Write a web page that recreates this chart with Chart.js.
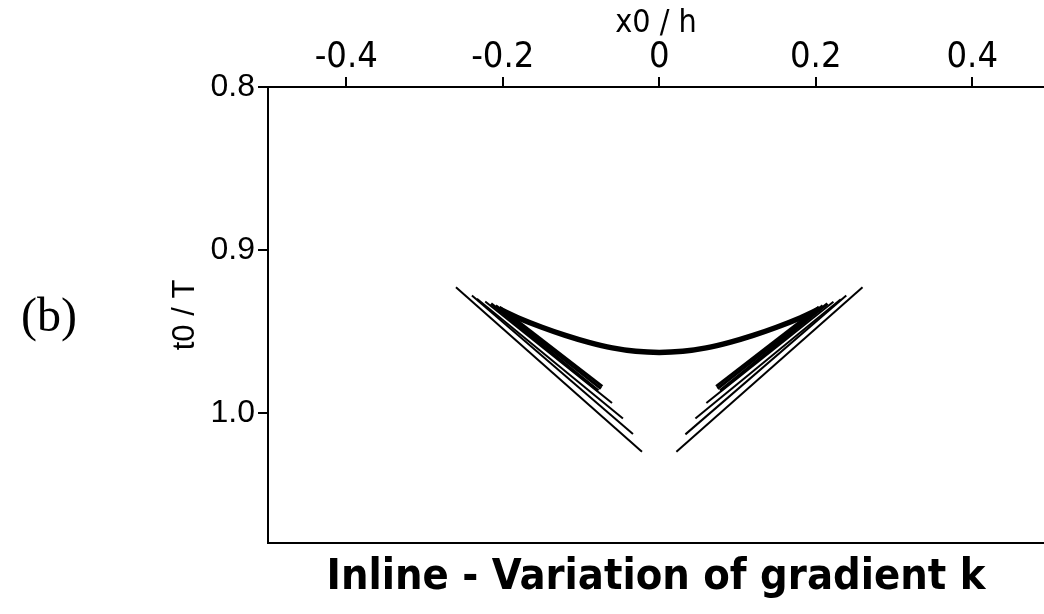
<!DOCTYPE html>
<html>
<head>
<meta charset="utf-8">
<script src="https://cdn.jsdelivr.net/npm/chart.js@4.4.1/dist/chart.umd.min.js"></script>
<style>
  html, body { margin: 0; padding: 0; background: #fff; overflow: hidden; }
  #wrap { position: relative; width: 1044px; height: 614px; }
  #panel { position: absolute; left: 21px; top: 291px; font: 48px 'Liberation Serif', 'Times New Roman', serif; color: #000; line-height: 1; }
</style>
</head>
<body>
<div id="wrap">
  <canvas id="c" width="1044" height="614"></canvas>
  <div id="panel">(b)</div>
</div>
<script>
// ---- data ----
const xTickValues = [-0.4, -0.2, 0, 0.2, 0.4];
const xTickLabels = ['-0.4', '-0.2', '0', '0.2', '0.4'];
const yTickValues = [0.8, 0.9, 1.0];
const yTickLabels = ['0.8', '0.9', '1.0'];

// thick curved line
const curveX = [-0.205, -0.18, -0.15, -0.12, -0.09, -0.06, -0.03, 0, 0.03, 0.06, 0.09, 0.12, 0.15, 0.18, 0.205];
const curveT = [0.9362, 0.9418, 0.9475, 0.9525, 0.9568, 0.9602, 0.9623, 0.9630, 0.9623, 0.9602, 0.9568, 0.9525, 0.9475, 0.9418, 0.9362];

// straight lines for the different gradients k (left branch)
const leftStartX = [-0.2598, -0.2394, -0.2330, -0.2224, -0.2150, -0.2090, -0.2040];
const leftStartT = [0.9229, 0.9280, 0.9300, 0.9317, 0.9330, 0.9342, 0.9352];
const leftEndX   = [-0.0221, -0.0336, -0.0464, -0.0604, -0.0780, -0.0745, -0.0728];
const leftEndT   = [1.0240, 1.0131, 1.0035, 0.9940, 0.9865, 0.9852, 0.9838];
// right branch
const rightStartX = [0.2598, 0.2390, 0.2320, 0.2226, 0.2150, 0.2090, 0.2040];
const rightStartT = [0.9229, 0.9280, 0.9303, 0.9319, 0.9330, 0.9342, 0.9352];
const rightEndX   = [0.0219, 0.0334, 0.0462, 0.0602, 0.0778, 0.0745, 0.0728];
const rightEndT   = [1.0240, 1.0133, 1.0035, 0.9940, 0.9865, 0.9852, 0.9838];
const lineWidths  = [2, 2, 2, 2, 3, 3, 3];

const datasets = [];
datasets.push({
  label: 'curve',
  data: curveX.map((x, i) => ({ x: x, y: curveT[i] })),
  borderColor: '#000', borderWidth: 5.5, showLine: true, pointRadius: 0, tension: 0.4
});
function addBranch(sx, st, ex, et, name) {
  sx.forEach((x, i) => {
    datasets.push({
      label: name + i,
      data: [{ x: x, y: st[i] }, { x: ex[i], y: et[i] }],
      borderColor: '#000', borderWidth: lineWidths[i], showLine: true, pointRadius: 0
    });
  });
}
addBranch(leftStartX, leftStartT, leftEndX, leftEndT, 'left');
addBranch(rightStartX, rightStartT, rightEndX, rightEndT, 'right');

const narrow = "'Liberation Sans Narrow', 'Arial Narrow', 'DejaVu Sans Condensed', sans-serif";
const sans = "'Liberation Sans', Arial, sans-serif";

new Chart(document.getElementById('c'), {
  type: 'scatter',
  data: { datasets },
  options: {
    responsive: false,
    animation: false,
    devicePixelRatio: 1,
    layout: { padding: { left: 160, right: 0, top: 0, bottom: 0 } },
    plugins: {
      legend: { display: false },
      tooltip: { enabled: false },
      title: { display: false }
    },
    scales: {
      x: {
        type: 'linear', position: 'top', min: -0.5, max: 0.4917,
        afterBuildTicks: s => { s.ticks = xTickValues.map(v => ({ value: v })); },
        afterFit: s => { s.height = 87; },
        ticks: {
          color: '#000', padding: 1,
          font: { family: narrow, size: 36, lineHeight: 1.0 },
          callback: (v) => { const i = xTickValues.findIndex(t => Math.abs(t - v) < 1e-9); return i >= 0 ? xTickLabels[i] : ''; }
        },
        grid: { drawOnChartArea: false, drawTicks: true, tickLength: 10, color: '#000', lineWidth: 2 },
        border: { display: true, color: '#000', width: 2 },
        title: { display: true, text: 'x0 / h', color: '#000', font: { family: narrow, size: 32, lineHeight: 1.2 }, padding: { top: 4, bottom: 0 } }
      },
      x2: {
        type: 'linear', position: 'bottom', min: -0.5, max: 0.4917,
        afterFit: s => { s.height = 71; },
        ticks: { display: false },
        grid: { drawOnChartArea: false, drawTicks: false },
        border: { display: true, color: '#000', width: 2 },
        title: {
          display: true, text: 'Inline - Variation of gradient k', color: '#000',
          font: { family: narrow, size: 43, weight: 'bold', lineHeight: 1.2 },
          padding: { top: 0, bottom: 10 }
        }
      },
      y: {
        type: 'linear', position: 'left', min: 0.8, max: 1.08, reverse: true,
        afterBuildTicks: s => { s.ticks = yTickValues.map(v => ({ value: v })); },
        afterFit: s => { s.width = 108; },
        ticks: {
          color: '#000', padding: 3,
          font: { family: sans, size: 32, lineHeight: 1.2 },
          callback: (v) => { const i = yTickValues.findIndex(t => Math.abs(t - v) < 1e-9); return i >= 0 ? yTickLabels[i] : ''; }
        },
        grid: { drawOnChartArea: false, drawTicks: true, tickLength: 10, color: '#000', lineWidth: 2 },
        border: { display: true, color: '#000', width: 2 },
        title: { display: true, text: 't0 / T', color: '#000', font: { family: sans, size: 31, lineHeight: 1.2 }, padding: { top: 7, bottom: 0 } }
      }
    }
  }
});
</script>
</body>
</html>
